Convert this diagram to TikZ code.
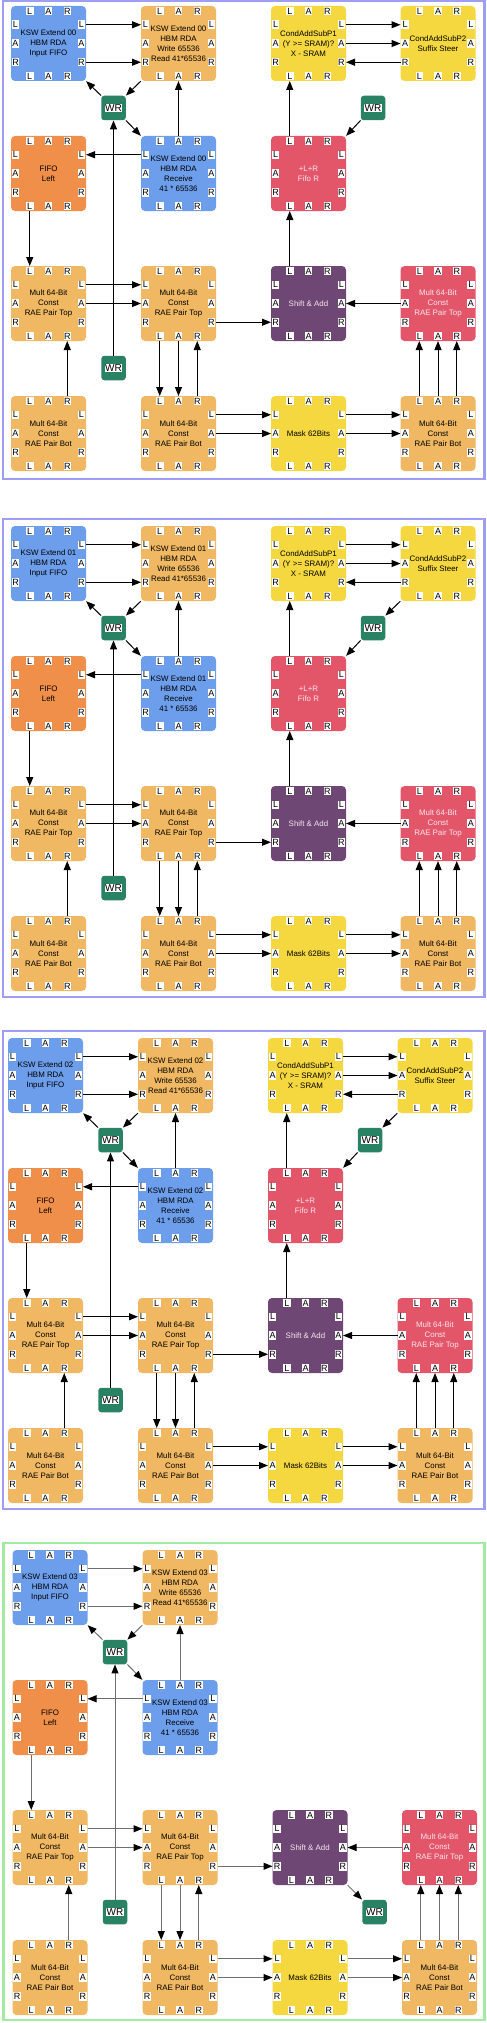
\documentclass[tikz,border=0pt]{standalone}
\usepackage{fontspec}
\setmainfont{Liberation Sans}
\usetikzlibrary{arrows.meta}
\definecolor{cblue}{HTML}{6D9EEB}
\definecolor{ctan}{HTML}{F0B862}
\definecolor{corange}{HTML}{F08F49}
\definecolor{cyellow}{HTML}{F5D83F}
\definecolor{cred}{HTML}{E35669}
\definecolor{cpurple}{HTML}{6F4775}
\definecolor{cgreen}{HTML}{2A8264}
\definecolor{cpink}{HTML}{F5E6EE}
\definecolor{clav}{HTML}{9E9EF2}
\definecolor{cmint}{HTML}{A3EBA3}
\definecolor{cgrey}{HTML}{6E6E6E}
\tikzset{
  blkbox/.style={rectangle, rounded corners=4pt, minimum width=75pt, minimum height=75pt, inner sep=0pt, align=center, font=\fontsize{7.9}{10}\selectfont},
  portlbl/.style={rectangle, fill=white, inner sep=0pt, minimum width=7.5pt, minimum height=8.5pt, font=\fontsize{9}{9}\selectfont, text=black},
  wrbox/.style={rectangle, fill=cgreen, rounded corners=3pt, minimum width=24.5pt, minimum height=24.5pt, inner sep=0pt},
  wrtext/.style={rectangle, fill=white, inner sep=0.6pt, font=\fontsize{10}{10}\selectfont, text=black},
  lc/.style={draw=black},
  conn/.style={lc, line width=1pt, -{Triangle[length=9pt,width=7pt,color=black]}},
  panelbox/.style={line width=2.2pt},
}
% name, x, y (top), fill, text colour, text
\newcommand{\blk}[6]{%
  \node[blkbox, fill=#4, text=#5] (#1) at (#2+37.5,#3+37.5) {#6};
  \foreach \f/\l in {18.75/L,37.5/A,56.25/R}{
    \node[portlbl] (#1-t\l) at (#2+\f,#3+5) {\l};
    \node[portlbl] (#1-b\l) at (#2+\f,#3+70) {\l};
    \node[portlbl] (#1-l\l) at (#2+4.5,#3+\f) {\l};
    \node[portlbl] (#1-r\l) at (#2+70.3,#3+\f) {\l};
    \coordinate (#1-T\l) at (#2+\f,#3);
    \coordinate (#1-B\l) at (#2+\f,#3+75);
    \coordinate (#1-W\l) at (#2,#3+\f);
    \coordinate (#1-E\l) at (#2+75,#3+\f);
  }
}
\newcommand{\wrnode}[3]{%
  \node[wrbox] (#1) at (#2,#3) {};
  \node[wrtext] (#1-txt) at (#1) {WR};
}
\newcommand{\core}[2]{%
  \blk{#1in}{11}{6}{cblue}{black}{KSW Extend #2\\HBM RDA\\Input FIFO}
  \blk{#1wrr}{141}{6}{ctan}{black}{KSW Extend #2\\HBM RDA\\Write 65536\\Read 41*65536}
  \blk{#1fl}{11}{136}{corange}{black}{FIFO\\Left}
  \blk{#1rcv}{141}{136}{cblue}{black}{KSW Extend #2\\HBM RDA\\Receive\\41 * 65536}
  \blk{#1ma}{11}{266}{ctan}{black}{Mult 64-Bit\\Const\\RAE Pair Top}
  \blk{#1mb}{141}{266}{ctan}{black}{Mult 64-Bit\\Const\\RAE Pair Top}
  \blk{#1sa}{271}{266}{cpurple}{cpink}{Shift \& Add}
  \blk{#1mr}{400.5}{266}{cred}{cpink}{Mult 64-Bit\\Const\\RAE Pair Top}
  \blk{#1mc}{11}{396}{ctan}{black}{Mult 64-Bit\\Const\\RAE Pair Bot}
  \blk{#1md}{141}{396}{ctan}{black}{Mult 64-Bit\\Const\\RAE Pair Bot}
  \blk{#1mk}{271}{396}{cyellow}{black}{Mask 62Bits}
  \blk{#1me}{400.5}{396}{ctan}{black}{Mult 64-Bit\\Const\\RAE Pair Bot}
  \wrnode{#1wa}{113.5}{108}
  \wrnode{#1wb}{113.5}{368}
  \draw[conn] (#1in-EL) -- (#1wrr-WL);
  \draw[conn] (#1in-ER) -- (#1wrr-WR);
  \draw[conn] (#1wrr.south west) -- (#1wa.north east);
  \draw[conn] (#1wa.north west) -- (#1in.south east);
  \draw[conn] (#1wa.south east) -- (#1rcv.north west);
  \draw[conn] (#1rcv-TA) -- (#1wrr-BA);
  \draw[conn] (#1rcv-WL) -- (#1fl-EL);
  \draw[conn] (#1fl-BL) -- (#1ma-TL);
  \draw[conn] (#1wb.north) -- (#1wa.south);
  \draw[conn] (#1ma-EL) -- (#1mb-WL);
  \draw[conn] (#1ma-EA) -- (#1mb-WA);
  \draw[conn] (#1mc-TR) -- (#1ma-BR);
  \draw[conn] (#1mb-BL) -- (#1md-TL);
  \draw[conn] (#1mb-BA) -- (#1md-TA);
  \draw[conn] (#1md-TR) -- (#1mb-BR);
  \draw[conn] (#1mb-ER) -- (#1sa-WR);
  \draw[conn] (#1md-EL) -- (#1mk-WL);
  \draw[conn] (#1md-EA) -- (#1mk-WA);
  \draw[conn] (#1mk-EL) -- (#1me-WL);
  \draw[conn] (#1mk-EA) -- (#1me-WA);
  \draw[conn] (#1me-TL) -- (#1mr-BL);
  \draw[conn] (#1me-TA) -- (#1mr-BA);
  \draw[conn] (#1me-TR) -- (#1mr-BR);
  \draw[conn] (#1mr-WA) -- (#1sa-EA);
}
\newcommand{\condpart}[1]{%
  \blk{#1ca}{271}{6}{cyellow}{black}{CondAddSubP1\\(Y >= SRAM)?\\X - SRAM}
  \blk{#1cb}{400.5}{6}{cyellow}{black}{CondAddSubP2\\Suffix Steer}
  \blk{#1lr}{271}{136}{cred}{cpink}{+L+R\\Fifo R}
  \wrnode{#1wc}{373}{108}
  \draw[conn] (#1ca-EL) -- (#1cb-WL);
  \draw[conn] (#1ca-EA) -- (#1cb-WA);
  \draw[conn] (#1cb-WR) -- (#1ca-ER);
  \draw[conn] (#1lr-TL) -- (#1ca-BL);
  \draw[conn] (#1sa-TL) -- (#1lr-BL);
  \draw[conn] (#1wc.south west) -- (#1lr.north east);
}
\begin{document}
\begin{tikzpicture}[x=1pt,y=-1pt]
\useasboundingbox (0,0) rectangle (487,2023);
\draw[panelbox, draw=clav] (3,1.2) rectangle (484.5,479);
\draw[panelbox, draw=clav] (3,519) rectangle (484.5,997);
\draw[panelbox, draw=clav] (3,1031) rectangle (484.5,1509);
\draw[panelbox, draw=cmint] (3.5,1543) rectangle (484.5,2020);
\begin{scope}
  \core{p1}{00}
  \condpart{p1}
\end{scope}
\begin{scope}[shift={(0,520)}]
  \core{p2}{01}
  \condpart{p2}
  \draw[conn] (p2cb.south west) -- (p2wc.north east);
\end{scope}
\begin{scope}[shift={(-3,1032)}]
  \core{p3}{02}
  \condpart{p3}
  \draw[conn] (p3cb.south west) -- (p3wc.north east);
\end{scope}
\begin{scope}[shift={(1.5,1544)}, lc/.style={draw=cgrey}]
  \core{p4}{03}
  \wrnode{p4wc}{373}{368}
  \draw[conn] (p4sa.south east) -- (p4wc.north west);
\end{scope}
\end{tikzpicture}
\end{document}
